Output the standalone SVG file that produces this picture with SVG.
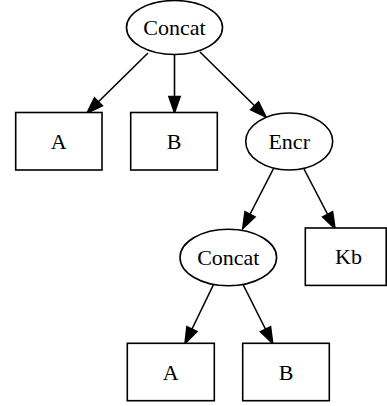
<svg xmlns="http://www.w3.org/2000/svg" width="387" height="406" viewBox="0 0 387 406">
<style>
.n{fill:#fff;stroke:#000;stroke-width:1.6}
.t{font-family:"Liberation Serif","Times New Roman",serif;font-size:22px;text-anchor:middle;fill:#000}
.e{stroke:#000;stroke-width:1.6;fill:none;marker-end:url(#ah)}
</style>
<defs>
<marker id="ah" markerUnits="userSpaceOnUse" markerWidth="18" markerHeight="14" refX="16" refY="5.6" orient="auto" overflow="visible">
<path d="M0,0 L16,5.6 L0,11.2 z" fill="#000" stroke="#000" stroke-width="1.6"/>
</marker>
</defs>
<rect width="387" height="406" fill="#fff"/>
<g id="edges">
<line class="e" x1="148" y1="53" x2="87" y2="113"/>
<line class="e" x1="174.5" y1="55" x2="174.5" y2="112.5"/>
<line class="e" x1="200" y1="52" x2="266" y2="117"/>
<line class="e" x1="273.3" y1="169" x2="242.7" y2="228.5"/>
<line class="e" x1="304" y1="169" x2="335" y2="228.5"/>
<line class="e" x1="213.3" y1="285" x2="185" y2="343.5"/>
<line class="e" x1="243.3" y1="285" x2="272.7" y2="343.5"/>
</g>
<g id="concat1"><ellipse class="n" cx="174.5" cy="27.5" rx="48" ry="27"/><text class="t" x="174.5" y="34.5">Concat</text></g>
<g id="a1"><rect class="n" x="15.7" y="112.5" width="86.3" height="57.5"/><text class="t" x="58.8" y="148.5">A</text></g>
<g id="b1"><rect class="n" x="130.7" y="112.5" width="86.6" height="57.5"/><text class="t" x="174" y="148.5">B</text></g>
<g id="encr"><ellipse class="n" cx="289.2" cy="141.5" rx="43.5" ry="28.5"/><text class="t" x="289.2" y="148.5">Encr</text></g>
<g id="concat2"><ellipse class="n" cx="228.3" cy="257.5" rx="48.3" ry="28.3"/><text class="t" x="228.3" y="264.5">Concat</text></g>
<g id="kb"><rect class="n" x="305.3" y="228" width="80.9" height="57.4"/><text class="t" x="348.5" y="264">Kb</text></g>
<g id="a2"><rect class="n" x="127.3" y="343.3" width="87" height="57.4"/><text class="t" x="170.8" y="379.5">A</text></g>
<g id="b2"><rect class="n" x="242.7" y="343.3" width="86.6" height="57.4"/><text class="t" x="286" y="379.5">B</text></g>
</svg>
